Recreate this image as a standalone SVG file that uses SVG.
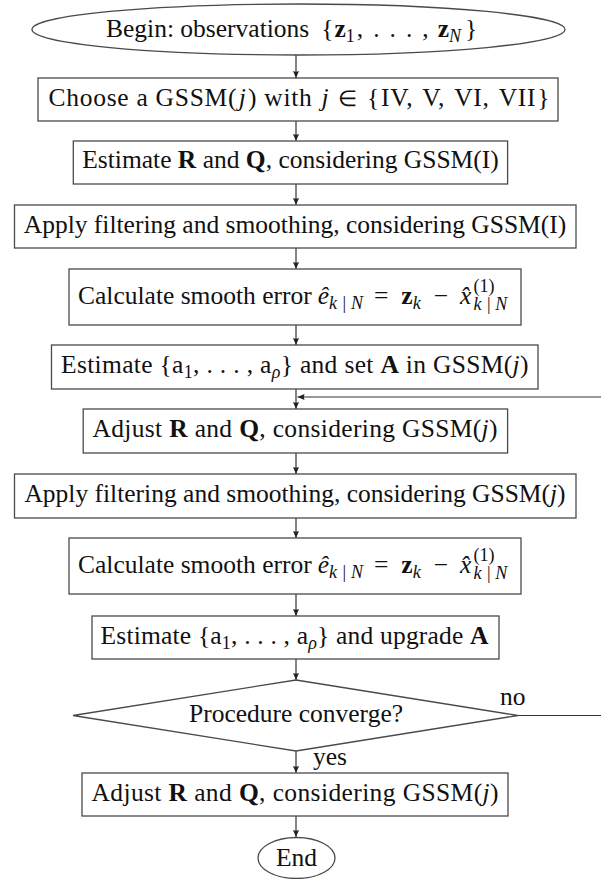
<svg xmlns="http://www.w3.org/2000/svg" width="601" height="879" viewBox="0 0 601 879">
<style>
  .shape { fill: #ffffff; stroke: #4a4a4a; stroke-width: 1.3; }
  .conn { fill: none; stroke: #333333; stroke-width: 1.2; }
  text { font-family: "Liberation Serif", "Times New Roman", serif; font-size: 25.5px; fill: #111111; text-anchor: middle; }
  .st { text-anchor: start; }
  .b { font-weight: bold; }
  .i { font-style: italic; }
  .s { font-size: 18px; }
  .rel { font-size: 22px; }
</style>
<defs>
  <marker id="arr" markerUnits="userSpaceOnUse" markerWidth="8" markerHeight="8" refX="7" refY="3" orient="auto">
    <path d="M0,0 L7,3 L0,6 Q1.5,3 0,0 Z" fill="#222222"/>
  </marker>
</defs>

<g id="connectors">
  <line class="conn" x1="296" y1="55" x2="296" y2="78" marker-end="url(#arr)"/>
  <line class="conn" x1="296" y1="121" x2="296" y2="141" marker-end="url(#arr)"/>
  <line class="conn" x1="296" y1="184" x2="296" y2="205" marker-end="url(#arr)"/>
  <line class="conn" x1="296" y1="248" x2="296" y2="269" marker-end="url(#arr)"/>
  <line class="conn" x1="296" y1="325" x2="296" y2="345" marker-end="url(#arr)"/>
  <line class="conn" x1="296" y1="389" x2="296" y2="409" marker-end="url(#arr)"/>
  <line class="conn" x1="296" y1="453" x2="296" y2="474" marker-end="url(#arr)"/>
  <line class="conn" x1="296" y1="518" x2="296" y2="538" marker-end="url(#arr)"/>
  <line class="conn" x1="296" y1="594" x2="296" y2="616" marker-end="url(#arr)"/>
  <line class="conn" x1="296" y1="659" x2="296" y2="680" marker-end="url(#arr)"/>
  <line class="conn" x1="296" y1="751" x2="296" y2="773" marker-end="url(#arr)"/>
  <line class="conn" x1="296" y1="816" x2="296" y2="837" marker-end="url(#arr)"/>
  <path class="conn" d="M518,715.5 L606,715.5 L606,397 L297.5,397" marker-end="url(#arr)"/>
  <text class="st" x="500" y="705">no</text>
  <text class="st" x="313" y="765">yes</text>
</g>

<g id="begin">
  <ellipse class="shape" cx="298.5" cy="29.5" rx="266.5" ry="25.5"/>
  <text class="st" x="106" y="37">Begin: observations<tspan dx="12">{</tspan><tspan class="b" dx="1">z</tspan><tspan class="s" dy="5">1</tspan><tspan dx="2 10 10 10 10" dy="-5">,...,</tspan><tspan class="b" dx="9">z</tspan><tspan class="s i" dy="5">N</tspan><tspan dx="4" dy="-5">}</tspan></text>
</g>

<g id="choose">
  <rect class="shape" x="38" y="78" width="520" height="43"/>
  <text class="st" x="48.5" y="106" textLength="501" lengthAdjust="spacing">Choose a GSSM(<tspan class="i" dx="1.5">j</tspan><tspan dx="1.5">) with</tspan><tspan class="i" dx="9">j</tspan><tspan class="rel" dx="9">∈</tspan><tspan dx="9">{</tspan><tspan dx="1">IV,</tspan><tspan dx="9">V,</tspan><tspan dx="9">VI,</tspan><tspan dx="9">VII</tspan><tspan dx="1">}</tspan></text>
</g>

<g id="estimateRQ">
  <rect class="shape" x="73.3" y="141" width="434.3" height="43"/>
  <text x="290.5" y="168.3">Estimate <tspan class="b">R</tspan> and <tspan class="b">Q</tspan>, considering GSSM(I)</text>
</g>

<g id="filter1">
  <rect class="shape" x="14.5" y="205" width="561.5" height="43"/>
  <text x="295" y="232.5">Apply filtering and smoothing, considering GSSM(I)</text>
</g>

<g id="error1">
  <rect class="shape" x="69" y="269" width="452" height="56"/>
  <text class="st" x="78" y="304">Calculate smooth error<tspan class="i" dx="6">ê</tspan><tspan class="s i" dy="5">k | N</tspan><tspan dx="11" dy="-5">=</tspan><tspan class="b" dx="13">z</tspan><tspan class="s i" dy="5">k</tspan><tspan dx="13" dy="-5">−</tspan><tspan class="i" dx="12">x&#x302;</tspan><tspan class="s" dx="2" dy="-12">(1)</tspan><tspan class="s i" dx="-21" dy="18">k | N</tspan></text>
</g>

<g id="estimateA1">
  <rect class="shape" x="51.5" y="345" width="486.5" height="44"/>
  <text class="st" x="61" y="373" textLength="467.5" lengthAdjust="spacing">Estimate {a<tspan class="s" dy="5">1</tspan><tspan dy="-5">, . . . , a</tspan><tspan class="s i" dy="5">ρ</tspan><tspan dy="-5">} and set </tspan><tspan class="b">A</tspan> in GSSM(<tspan class="i">j</tspan>)</text>
</g>

<g id="adjust1">
  <rect class="shape" x="83.2" y="409" width="424.4" height="44"/>
  <text class="st" x="92.5" y="437" textLength="405" lengthAdjust="spacing">Adjust <tspan class="b">R</tspan> and <tspan class="b">Q</tspan>, considering GSSM(<tspan class="i">j</tspan>)</text>
</g>

<g id="filter2">
  <rect class="shape" x="14.5" y="474" width="561.5" height="44"/>
  <text x="295" y="502">Apply filtering and smoothing, considering GSSM(<tspan class="i">j</tspan>)</text>
</g>

<g id="error2">
  <rect class="shape" x="69" y="538" width="452" height="56"/>
  <text class="st" x="78" y="573">Calculate smooth error<tspan class="i" dx="6">ê</tspan><tspan class="s i" dy="5">k | N</tspan><tspan dx="11" dy="-5">=</tspan><tspan class="b" dx="13">z</tspan><tspan class="s i" dy="5">k</tspan><tspan dx="13" dy="-5">−</tspan><tspan class="i" dx="12">x&#x302;</tspan><tspan class="s" dx="2" dy="-12">(1)</tspan><tspan class="s i" dx="-21" dy="18">k | N</tspan></text>
</g>

<g id="estimateA2">
  <rect class="shape" x="92" y="616" width="407" height="43"/>
  <text class="st" x="100.5" y="644" textLength="388" lengthAdjust="spacing">Estimate {a<tspan class="s" dy="5">1</tspan><tspan dy="-5">, . . . , a</tspan><tspan class="s i" dy="5">ρ</tspan><tspan dy="-5">} and upgrade </tspan><tspan class="b">A</tspan></text>
</g>

<g id="converge">
  <polygon class="shape" points="296,680 518,715.5 296,751 73,715.5"/>
  <text x="296" y="722">Procedure converge?</text>
</g>

<g id="adjust2">
  <rect class="shape" x="82" y="773" width="426" height="43"/>
  <text class="st" x="91.5" y="800.5" textLength="407" lengthAdjust="spacing">Adjust <tspan class="b">R</tspan> and <tspan class="b">Q</tspan>, considering GSSM(<tspan class="i">j</tspan>)</text>
</g>

<g id="end">
  <ellipse class="shape" cx="296.5" cy="858" rx="38.5" ry="20.5"/>
  <text x="296.5" y="866">End</text>
</g>
</svg>
